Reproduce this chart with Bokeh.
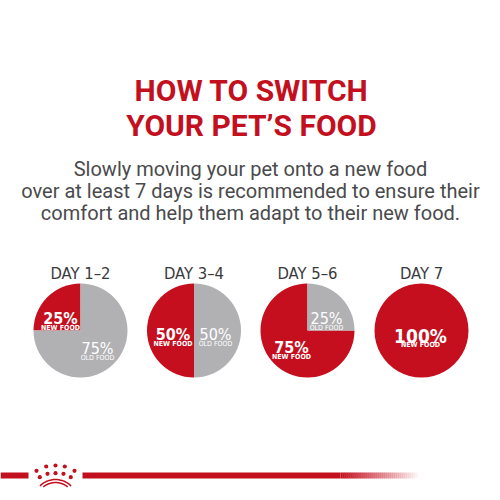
import numpy as np
from bokeh.plotting import figure
from bokeh.models import ColumnDataSource
from bokeh.core.properties import value
from bokeh.embed import file_html
from bokeh.resources import INLINE

# ---- data ----
days = ["DAY 1–2", "DAY 3–4", "DAY 5–6", "DAY 7"]
new_food = [25, 50, 75, 100]
old_food = [75, 50, 25, 0]
new_label = "NEW FOOD"
old_label = "OLD FOOD"
title_lines = ["HOW TO SWITCH", "YOUR PET’S FOOD"]
subtitle_lines = [
    "Slowly moving your pet onto a new food",
    "over at least 7 days is recommended to ensure their",
    "comfort and help them adapt to their new food.",
]

# ---- layout / style ----
W = H = 492
RED = "#c3101f"
PIE_RED = "#c50f1e"
GRAY = "#b1b1b3"
TXT = "#4a4a4c"
DAYC = "#3a3a3c"
COND = "DejaVu Sans Condensed, Roboto"


def X(r):
    return r


def Y(r):
    return H - r


centers_x = [80, 193.5, 307, 421]
center_y = 330
radius = 47
# label anchors relative to pie centre (px): x offset, baseline offset
new_dx = [-20, -21, -16, -1]
new_dy = [-12, 4, 17, 5]
old_dx = [17, 21.5, 19, 0]
old_dy = [18, 4, -12, 0]
pct_size = [16, 16, 16, 19]

p = figure(width=W, height=H, x_range=(0, W), y_range=(0, H),
           x_axis_type=None, y_axis_type=None, toolbar_location=None,
           output_backend="svg", min_border=0)
p.outline_line_color = None
p.grid.visible = False
p.background_fill_color = "white"
p.border_fill_color = "white"

# title
p.text(x=[X(251)] * 2, y=[Y(90), Y(125)], text=title_lines,
       text_font=value("Roboto"), text_font_style="bold",
       text_font_size="30px", text_color=RED,
       text_align="center", text_baseline="alphabetic")

# subtitle
p.text(x=[X(250)] * 3, y=[Y(168), Y(190), Y(212)], text=subtitle_lines,
       text_font=value("Roboto"), text_font_size="20px", text_color=TXT,
       text_align="center", text_baseline="alphabetic")

# day labels
p.text(x=[X(c) for c in centers_x], y=[Y(273)] * 4, text=days,
       text_font=value(COND), text_font_size="16.5px", text_color=DAYC,
       text_align="center", text_baseline="alphabetic")

# pies
start = np.pi / 2
full = 2 * np.pi - 1e-4
ws = dict(x=[], y=[], s=[], e=[], c=[])
for i, cx in enumerate(centers_x):
    a_new = min(2 * np.pi * new_food[i] / 100, full)
    a_old = min(2 * np.pi * old_food[i] / 100, full)
    if new_food[i] > 0:
        ws["x"].append(X(cx)); ws["y"].append(Y(center_y))
        ws["s"].append(start); ws["e"].append(start + a_new); ws["c"].append(PIE_RED)
    if old_food[i] > 0:
        ws["x"].append(X(cx)); ws["y"].append(Y(center_y))
        ws["s"].append(start + a_new); ws["e"].append(start + a_new + a_old); ws["c"].append(GRAY)
p.wedge(x="x", y="y", radius=radius, start_angle="s", end_angle="e",
        fill_color="c", line_color=None, source=ColumnDataSource(ws))

# pie labels
for i, cx in enumerate(centers_x):
    if new_food[i] > 0:
        bx, by = X(cx + new_dx[i]), Y(center_y + new_dy[i])
        p.text(x=[bx], y=[by], text=[f"{new_food[i]}%"], text_font=value(COND),
               text_font_style="bold", text_font_size=f"{pct_size[i]}px",
               text_color="white", text_align="center", text_baseline="alphabetic")
        p.text(x=[bx], y=[by - 9], text=[new_label], text_font=value(COND),
               text_font_style="bold", text_font_size="7px",
               text_color="white", text_align="center", text_baseline="alphabetic")
    if old_food[i] > 0:
        bx, by = X(cx + old_dx[i]), Y(center_y + old_dy[i])
        p.text(x=[bx], y=[by], text=[f"{old_food[i]}%"], text_font=value(COND),
               text_font_size=f"{pct_size[i]}px",
               text_color="white", text_align="center", text_baseline="alphabetic")
        p.text(x=[bx], y=[by - 9], text=[old_label], text_font=value(COND),
               text_font_size="7px",
               text_color="white", text_align="center", text_baseline="alphabetic")

# bottom brand line
LINE_TOP, LINE_BOT = Y(472), Y(478)
p.quad(left=[0, X(82)], right=[X(28), X(340)], bottom=LINE_BOT, top=LINE_TOP,
       fill_color=RED, line_color=None)
gx = np.linspace(X(340), X(420), 41)
p.quad(left=gx[:-1], right=gx[1:] + 0.3, bottom=LINE_BOT, top=LINE_TOP,
       fill_color=RED, fill_alpha=np.linspace(1, 0, 40), line_color=None)

# crown
dots_x = [36, 45.7, 55, 64.3, 74, 39.3, 47, 55, 63, 70.3]
dots_y = [470.3, 466, 465, 466, 470.3, 476.7, 473.3, 472.7, 473.3, 476.7]
p.scatter(x=[X(v) for v in dots_x], y=[Y(v) for v in dots_y], size=4.2,
          fill_color=RED, line_color=None)
for rr, a0 in [(22, 45), (19, 50)]:
    t = np.radians(np.linspace(a0, 180 - a0, 30))
    p.line(x=X(55) + rr * np.cos(t), y=Y(501) + rr * np.sin(t),
           line_color=RED, line_width=1.5)

open("out.html", "w").write(file_html(p, INLINE))
